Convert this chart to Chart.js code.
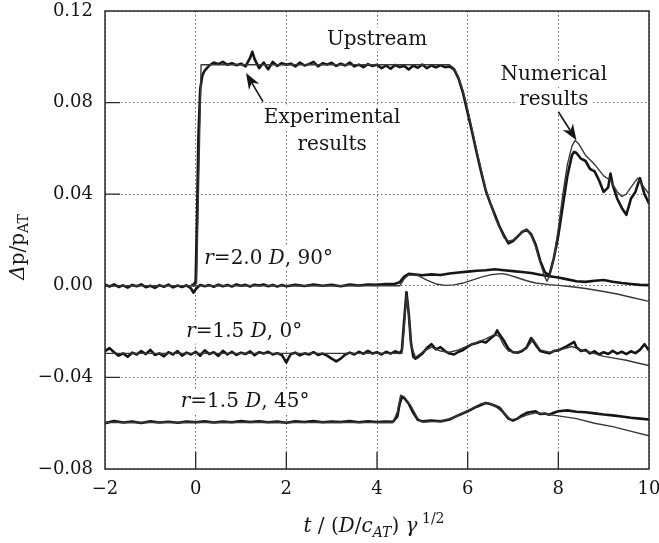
<!DOCTYPE html>
<html>
<head>
<meta charset="utf-8">
<script src="https://cdn.jsdelivr.net/npm/chart.js@4/dist/chart.umd.min.js"></script>
<style>
  body { margin: 0; background: #fff; }
  canvas { display: block; }
</style>
</head>
<body>
<canvas id="chart" width="659" height="543"></canvas>
<script>
// [t, Δp/pAT] pairs
const upstreamExp = [
  [-0.1, 0.0004], [-0.05, 0.0002], [0, 0.002], [0.03, 0.030], [0.06, 0.065], [0.1, 0.086], [0.15, 0.092], [0.2, 0.094],
  [0.3, 0.0962], [0.4, 0.0975], [0.5, 0.0968], [0.6, 0.0978], [0.7, 0.0965], [0.8, 0.0972], [0.9, 0.0963], [1.0, 0.0970],
  [1.1, 0.0958], [1.2, 0.0995], [1.25, 0.1022], [1.3, 0.0990], [1.4, 0.0950], [1.5, 0.0975], [1.6, 0.0945], [1.7, 0.0978],
  [1.8, 0.0960], [1.9, 0.0972], [2.0, 0.0965], [2.1, 0.0970], [2.2, 0.0958], [2.3, 0.0975], [2.4, 0.0962], [2.5, 0.0968],
  [2.6, 0.0978], [2.7, 0.0958], [2.8, 0.0972], [2.9, 0.0966], [3.0, 0.0974], [3.1, 0.0960], [3.2, 0.0970], [3.3, 0.0962],
  [3.4, 0.0975], [3.5, 0.0958], [3.6, 0.0966], [3.7, 0.0955], [3.8, 0.0968], [3.9, 0.0960], [4.0, 0.0965], [4.1, 0.0950],
  [4.2, 0.0962], [4.3, 0.0948], [4.4, 0.0964], [4.5, 0.0955], [4.6, 0.0960], [4.7, 0.0945], [4.8, 0.0962], [4.9, 0.0952],
  [5.0, 0.0966], [5.1, 0.0950], [5.2, 0.0962], [5.3, 0.0954], [5.4, 0.0963], [5.5, 0.0955], [5.6, 0.0958], [5.7, 0.0945],
  [5.8, 0.0905], [5.9, 0.0840], [6.0, 0.0755], [6.1, 0.0670], [6.2, 0.0580], [6.3, 0.0495], [6.4, 0.0415], [6.5, 0.0360],
  [6.6, 0.0310], [6.7, 0.0260], [6.8, 0.0220], [6.9, 0.0185], [7.0, 0.0195], [7.1, 0.0215], [7.2, 0.0235], [7.3, 0.0245],
  [7.4, 0.0225], [7.5, 0.0180], [7.6, 0.0110], [7.7, 0.0060], [7.8, 0.0045], [7.9, 0.0120], [8.0, 0.0220], [8.1, 0.0350],
  [8.2, 0.0480], [8.3, 0.0570], [8.35, 0.0585], [8.4, 0.0580], [8.5, 0.0555], [8.6, 0.0545], [8.7, 0.0510], [8.8, 0.0500],
  [8.9, 0.0460], [9.0, 0.0410], [9.1, 0.0430], [9.15, 0.0490], [9.2, 0.0440], [9.3, 0.0380], [9.4, 0.0340], [9.5, 0.0310],
  [9.6, 0.0380], [9.7, 0.0410], [9.8, 0.0470], [9.9, 0.0400], [10.0, 0.0360]
];
const upstreamNum = [
  [-0.05, 0], [0.02, 0.001], [0.12, 0.0965], [5.6, 0.0965], [5.7, 0.0950], [5.8, 0.0910], [5.9, 0.0850], [6.0, 0.0770],
  [6.2, 0.0590], [6.4, 0.0420], [6.6, 0.0300], [6.8, 0.0210], [6.9, 0.0195], [7.0, 0.0200], [7.2, 0.0235], [7.3, 0.0245],
  [7.4, 0.0220], [7.5, 0.0170], [7.6, 0.0100], [7.7, 0.0040], [7.75, 0.0020], [7.8, 0.0040], [7.9, 0.0120], [8.0, 0.0250],
  [8.1, 0.0400], [8.2, 0.0530], [8.3, 0.0610], [8.37, 0.0635], [8.45, 0.0620], [8.6, 0.0570], [8.8, 0.0530], [9.0, 0.0480],
  [9.15, 0.0460], [9.3, 0.0410], [9.4, 0.0390], [9.5, 0.0400], [9.6, 0.0430], [9.75, 0.0470], [9.85, 0.0440], [10.0, 0.0400]
];
const r20Exp = [
  [-2.0, 0.0005], [-1.9, -0.0003], [-1.8, 0.0006], [-1.7, -0.0005], [-1.6, 0.0002], [-1.5, -0.0008], [-1.4, 0.0004],
  [-1.3, -0.0002], [-1.2, 0.0006], [-1.1, -0.0006], [-1.0, 0.0000], [-0.9, -0.0009], [-0.8, 0.0003], [-0.7, -0.0004],
  [-0.6, 0.0005], [-0.5, -0.0007], [-0.4, 0.0001], [-0.3, -0.0005], [-0.2, 0.0002], [-0.1, -0.0012], [-0.05, -0.0030],
  [0.0, -0.0015], [0.1, 0.0004], [0.2, -0.0002], [0.3, 0.0003], [0.4, -0.0004], [0.5, 0.0005], [0.6, -0.0002],
  [0.7, 0.0004], [0.8, -0.0003], [0.9, 0.0006], [1.0, 0.0000], [1.1, 0.0004], [1.2, -0.0003], [1.3, 0.0005],
  [1.4, 0.0001], [1.5, 0.0006], [1.6, -0.0002], [1.7, 0.0004], [1.8, -0.0003], [1.9, 0.0003], [2.0, -0.0002],
  [2.2, 0.0004], [2.4, -0.0001], [2.6, 0.0005], [2.8, 0.0000], [3.0, 0.0004], [3.2, -0.0002], [3.4, 0.0005],
  [3.6, 0.0001], [3.8, 0.0006], [4.0, 0.0004], [4.2, 0.0008], [4.4, 0.0009], [4.5, 0.0015], [4.6, 0.0040],
  [4.7, 0.0052], [4.8, 0.0050], [5.0, 0.0046], [5.2, 0.0050], [5.4, 0.0047], [5.6, 0.0054], [5.8, 0.0058],
  [6.0, 0.0062], [6.2, 0.0066], [6.4, 0.0068], [6.6, 0.0072], [6.8, 0.0068], [7.0, 0.0064], [7.2, 0.0060],
  [7.4, 0.0056], [7.6, 0.0048], [7.8, 0.0042], [8.0, 0.0036], [8.2, 0.0028], [8.4, 0.0020], [8.6, 0.0017],
  [8.8, 0.0022], [9.0, 0.0025], [9.2, 0.0018], [9.4, 0.0012], [9.6, 0.0008], [9.8, 0.0004], [10.0, 0.0003]
];
const r20Num = [
  [-2.0, 0], [4.5, 0], [4.6, 0.0030], [4.7, 0.0048], [4.9, 0.0045], [5.1, 0.0025], [5.3, 0.0008], [5.5, 0.0002],
  [5.7, 0.0004], [5.9, 0.0012], [6.1, 0.0025], [6.3, 0.0038], [6.5, 0.0048], [6.75, 0.0053], [6.9, 0.0048],
  [7.1, 0.0035], [7.3, 0.0022], [7.5, 0.0012], [7.8, 0.0005], [8.0, 0.0002], [8.3, -0.0004], [8.6, -0.0012],
  [9.0, -0.0025], [9.3, -0.0036], [9.6, -0.0050], [10.0, -0.0068]
];
const r15aExp = [
  [-2.0, -0.0285], [-1.9, -0.0272], [-1.8, -0.0290], [-1.7, -0.0305], [-1.6, -0.0295], [-1.5, -0.0310], [-1.4, -0.0292],
  [-1.3, -0.0300], [-1.2, -0.0285], [-1.1, -0.0298], [-1.0, -0.0280], [-0.9, -0.0302], [-0.8, -0.0295], [-0.7, -0.0308],
  [-0.6, -0.0290], [-0.5, -0.0300], [-0.4, -0.0285], [-0.3, -0.0305], [-0.2, -0.0292], [-0.1, -0.0300], [0.0, -0.0288],
  [0.1, -0.0305], [0.2, -0.0282], [0.3, -0.0298], [0.4, -0.0290], [0.5, -0.0306], [0.6, -0.0284], [0.7, -0.0300],
  [0.8, -0.0288], [0.9, -0.0302], [1.0, -0.0292], [1.1, -0.0298], [1.2, -0.0286], [1.3, -0.0303], [1.4, -0.0290],
  [1.5, -0.0296], [1.6, -0.0288], [1.7, -0.0300], [1.8, -0.0294], [1.9, -0.0302], [1.95, -0.0318], [2.0, -0.0335],
  [2.05, -0.0315], [2.1, -0.0298], [2.2, -0.0292], [2.3, -0.0304], [2.4, -0.0295], [2.5, -0.0300], [2.6, -0.0290],
  [2.7, -0.0302], [2.8, -0.0296], [2.9, -0.0305], [3.0, -0.0318], [3.1, -0.0330], [3.2, -0.0318], [3.3, -0.0300],
  [3.4, -0.0292], [3.5, -0.0300], [3.6, -0.0288], [3.7, -0.0297], [3.8, -0.0284], [3.9, -0.0296], [4.0, -0.0290],
  [4.1, -0.0300], [4.2, -0.0288], [4.3, -0.0296], [4.4, -0.0286], [4.5, -0.0294], [4.55, -0.0280], [4.6, -0.0150],
  [4.65, -0.0028], [4.7, -0.0120], [4.75, -0.0250], [4.8, -0.0310], [4.85, -0.0318], [4.9, -0.0312], [5.0, -0.0296],
  [5.1, -0.0272], [5.2, -0.0255], [5.3, -0.0278], [5.4, -0.0268], [5.5, -0.0285], [5.6, -0.0296], [5.7, -0.0300],
  [5.8, -0.0288], [5.9, -0.0280], [6.0, -0.0266], [6.1, -0.0255], [6.2, -0.0250], [6.3, -0.0242], [6.4, -0.0248],
  [6.5, -0.0230], [6.6, -0.0215], [6.65, -0.0195], [6.7, -0.0212], [6.8, -0.0240], [6.9, -0.0275], [7.0, -0.0290],
  [7.1, -0.0292], [7.2, -0.0285], [7.3, -0.0270], [7.4, -0.0228], [7.5, -0.0258], [7.6, -0.0285], [7.7, -0.0290],
  [7.8, -0.0295], [7.9, -0.0285], [8.0, -0.0282], [8.1, -0.0272], [8.2, -0.0262], [8.35, -0.0245], [8.4, -0.0268],
  [8.5, -0.0285], [8.6, -0.0280], [8.7, -0.0295], [8.8, -0.0286], [8.9, -0.0300], [9.0, -0.0290], [9.1, -0.0298],
  [9.2, -0.0284], [9.3, -0.0296], [9.4, -0.0288], [9.5, -0.0298], [9.6, -0.0286], [9.7, -0.0294], [9.8, -0.0280],
  [9.9, -0.0255], [10.0, -0.0282]
];
const r15aNum = [
  [-2.0, -0.0295], [4.55, -0.0295], [4.6, -0.0180], [4.65, -0.0040], [4.7, -0.0130], [4.75, -0.0260], [4.85, -0.0312],
  [5.0, -0.0290], [5.2, -0.0268], [5.4, -0.0285], [5.6, -0.0290], [5.8, -0.0280], [6.0, -0.0262], [6.2, -0.0248],
  [6.4, -0.0232], [6.6, -0.0212], [6.7, -0.0222], [6.8, -0.0260], [6.9, -0.0285], [7.1, -0.0290], [7.3, -0.0272],
  [7.45, -0.0235], [7.6, -0.0280], [7.8, -0.0290], [8.0, -0.0282], [8.3, -0.0265], [8.5, -0.0280], [8.8, -0.0296],
  [9.0, -0.0308], [9.2, -0.0315], [9.5, -0.0325], [9.7, -0.0335], [10.0, -0.0348]
];
const r15bExp = [
  [-2.0, -0.0600], [-1.8, -0.0590], [-1.6, -0.0597], [-1.4, -0.0593], [-1.2, -0.0599], [-1.0, -0.0592], [-0.8, -0.0597],
  [-0.6, -0.0594], [-0.4, -0.0598], [-0.2, -0.0593], [0.0, -0.0596], [0.2, -0.0592], [0.4, -0.0597], [0.6, -0.0593],
  [0.8, -0.0596], [1.0, -0.0591], [1.2, -0.0595], [1.4, -0.0592], [1.6, -0.0596], [1.8, -0.0593], [2.0, -0.0598],
  [2.2, -0.0592], [2.4, -0.0595], [2.6, -0.0591], [2.8, -0.0596], [3.0, -0.0593], [3.2, -0.0595], [3.4, -0.0591],
  [3.6, -0.0596], [3.8, -0.0592], [4.0, -0.0595], [4.2, -0.0593], [4.35, -0.0594], [4.45, -0.0570], [4.5, -0.0515],
  [4.55, -0.0486], [4.6, -0.0490], [4.7, -0.0515], [4.8, -0.0555], [4.9, -0.0585], [5.0, -0.0592], [5.2, -0.0588],
  [5.4, -0.0592], [5.6, -0.0584], [5.8, -0.0565], [6.0, -0.0548], [6.2, -0.0528], [6.4, -0.0512], [6.5, -0.0516],
  [6.6, -0.0524], [6.7, -0.0532], [6.8, -0.0556], [6.9, -0.0580], [7.0, -0.0589], [7.1, -0.0580], [7.2, -0.0566],
  [7.3, -0.0555], [7.4, -0.0551], [7.5, -0.0548], [7.6, -0.0560], [7.7, -0.0558], [7.8, -0.0563], [7.9, -0.0554],
  [8.0, -0.0548], [8.2, -0.0544], [8.4, -0.0550], [8.6, -0.0552], [8.8, -0.0557], [9.0, -0.0562], [9.2, -0.0566],
  [9.4, -0.0571], [9.6, -0.0576], [9.8, -0.0580], [10.0, -0.0584]
];
const r15bNum = [
  [-2.0, -0.0597], [4.35, -0.0597], [4.45, -0.0550], [4.52, -0.0478], [4.6, -0.0485], [4.75, -0.0525], [4.9, -0.0580],
  [5.0, -0.0595], [5.4, -0.0592], [5.7, -0.0575], [6.0, -0.0545], [6.3, -0.0515], [6.45, -0.0510], [6.6, -0.0525],
  [6.8, -0.0555], [6.95, -0.0585], [7.1, -0.0580], [7.3, -0.0565], [7.5, -0.0555], [7.7, -0.0560], [8.0, -0.0568],
  [8.4, -0.0580], [8.8, -0.0600], [9.2, -0.0615], [9.5, -0.0630], [10.0, -0.0655]
];

const xTicks = [-2, 0, 2, 4, 6, 8, 10];
const yTicks = [-0.08, -0.04, 0.00, 0.04, 0.08, 0.12];

const FONT = '"DejaVu Serif", serif';
const INK = '#151515';

function toPoints(pairs) {
    return pairs.map(p => ({ x: p[0], y: p[1] }));
}

function expSet(pairs) {
    return { data: toPoints(pairs), borderColor: '#161616', borderWidth: 2.6, order: 2 };
}
function numSet(pairs) {
    return { data: toPoints(pairs), borderColor: '#383838', borderWidth: 1.4, order: 1 };
}

// text runs: {t, i (italic), s (size), dy}
function runFont(r) {
    return (r.i ? 'italic ' : '') + (r.s || 20) + 'px ' + FONT;
}
function runsWidth(ctx, runs) {
    let w = 0;
    runs.forEach(r => { ctx.font = runFont(r); r.w = ctx.measureText(r.t).width; w += r.w; });
    return w;
}
function drawRuns(ctx, runs, x, y) {
    const total = runsWidth(ctx, runs);
    let cx = x - total / 2;
    runs.forEach(r => {
        ctx.font = runFont(r);
        ctx.fillText(r.t, cx, y + (r.dy || 0));
        cx += r.w;
    });
}

// annotations, placed in data coordinates
const notes = [
    { x: 4.0, y: 0.1076, runs: [{ t: 'Upstream' }] },
    { x: 3.01, y: 0.0733, runs: [{ t: 'Experimental' }] },
    { x: 3.01, y: 0.0615, runs: [{ t: 'results' }] },
    { x: 7.9, y: 0.0920, runs: [{ t: 'Numerical' }] },
    { x: 7.9, y: 0.0811, runs: [{ t: 'results' }] },
    { x: 1.61, y: 0.0117, runs: [{ t: 'r', i: 1 }, { t: '=2.0 ' }, { t: 'D', i: 1 }, { t: ', 90°' }] },
    { x: 1.07, y: -0.0200, runs: [{ t: 'r', i: 1 }, { t: '=1.5 ' }, { t: 'D', i: 1 }, { t: ', 0°' }] },
    { x: 1.09, y: -0.0506, runs: [{ t: 'r', i: 1 }, { t: '=1.5 ' }, { t: 'D', i: 1 }, { t: ', 45°' }] }
];
const arrows = [
    { from: [1.485, 0.0804], to: [1.11, 0.0929] },
    { from: [8.0, 0.0760], to: [8.40, 0.0636] }
];

function drawArrow(ctx, x1, y1, x2, y2) {
    const ang = Math.atan2(y2 - y1, x2 - x1);
    const len = 16, half = 6;
    ctx.strokeStyle = INK;
    ctx.fillStyle = INK;
    ctx.lineWidth = 1.6;
    ctx.beginPath();
    ctx.moveTo(x1, y1);
    ctx.lineTo(x2 - Math.cos(ang) * len * 0.7, y2 - Math.sin(ang) * len * 0.7);
    ctx.stroke();
    ctx.beginPath();
    ctx.moveTo(x2, y2);
    ctx.lineTo(x2 - Math.cos(ang) * len + Math.sin(ang) * half, y2 - Math.sin(ang) * len - Math.cos(ang) * half);
    ctx.lineTo(x2 - Math.cos(ang) * len * 0.7, y2 - Math.sin(ang) * len * 0.7);
    ctx.lineTo(x2 - Math.cos(ang) * len - Math.sin(ang) * half, y2 - Math.sin(ang) * len + Math.cos(ang) * half);
    ctx.closePath();
    ctx.fill();
}

const decorations = {
    id: 'decorations',
    beforeDatasetsDraw(chart) {
        // white patches behind the labels, which break the dotted grid like in the figure
        const { ctx, scales: { x, y } } = chart;
        ctx.save();
        ctx.fillStyle = '#fff';
        notes.forEach(n => {
            const w = runsWidth(ctx, n.runs);
            ctx.fillRect(x.getPixelForValue(n.x) - w / 2 - 4, y.getPixelForValue(n.y) - 12, w + 8, 24);
        });
        ctx.restore();
    },
    afterDraw(chart) {
        const { ctx, chartArea: a, scales: { x, y } } = chart;
        ctx.save();
        // frame
        ctx.strokeStyle = '#2a2a2a';
        ctx.lineWidth = 1.5;
        ctx.strokeRect(a.left, a.top, a.right - a.left, a.bottom - a.top);
        // inner tick marks
        ctx.lineWidth = 1.3;
        ctx.beginPath();
        xTicks.slice(1, -1).forEach(v => {
            const px = x.getPixelForValue(v);
            ctx.moveTo(px, a.bottom);
            ctx.lineTo(px, a.bottom - 17);
        });
        yTicks.slice(1, -1).forEach(v => {
            const py = y.getPixelForValue(v);
            ctx.moveTo(a.left, py);
            ctx.lineTo(a.left + 15, py);
        });
        ctx.stroke();

        // labels
        ctx.fillStyle = INK;
        ctx.textBaseline = 'middle';
        ctx.textAlign = 'left';
        notes.forEach(n => drawRuns(ctx, n.runs, x.getPixelForValue(n.x), y.getPixelForValue(n.y)));
        arrows.forEach(ar => drawArrow(ctx,
            x.getPixelForValue(ar.from[0]), y.getPixelForValue(ar.from[1]),
            x.getPixelForValue(ar.to[0]), y.getPixelForValue(ar.to[1])));

        // x axis title
        ctx.textBaseline = 'alphabetic';
        drawRuns(ctx, [
            { t: 't', i: 1 }, { t: ' / (' }, { t: 'D', i: 1 }, { t: '/' }, { t: 'c', i: 1 },
            { t: 'AT', i: 1, s: 14, dy: 5 }, { t: ') ' }, { t: 'γ', i: 1 }, { t: ' 1/2', s: 14, dy: -9 }
        ], 374, 532);

        // y axis title
        ctx.translate(19, 247);
        ctx.rotate(-Math.PI / 2);
        ctx.textBaseline = 'middle';
        drawRuns(ctx, [{ t: 'Δ', i: 1 }, { t: 'p/p' }, { t: 'AT', s: 14, dy: 5 }], 0, 0);
        ctx.restore();
    }
};

const ctx = document.getElementById('chart').getContext('2d');
new Chart(ctx, {
    type: 'line',
    data: {
        datasets: [
            expSet(upstreamExp), numSet(upstreamNum),
            expSet(r20Exp), numSet(r20Num),
            expSet(r15aExp), numSet(r15aNum),
            expSet(r15bExp), numSet(r15bNum)
        ]
    },
    options: {
        responsive: false,
        animation: false,
        layout: { padding: { left: 0, right: 10, top: 11, bottom: 0 } },
        elements: { point: { radius: 0 }, line: { tension: 0, borderJoinStyle: 'round' } },
        plugins: { legend: { display: false }, tooltip: { enabled: false } },
        scales: {
            x: {
                type: 'linear',
                min: -2,
                max: 10,
                afterBuildTicks: s => { s.ticks = xTicks.map(v => ({ value: v })); },
                afterFit: s => { s.height = 74; s.paddingLeft = 0; s.paddingRight = 0; },
                ticks: {
                    color: INK,
                    padding: 10,
                    font: { family: FONT, size: 18 },
                    callback: v => v < 0 ? '−' + Math.abs(v) : String(v)
                },
                grid: { color: '#666', lineWidth: 1, drawTicks: false },
                border: { display: false, dash: [1.5, 2.5] }
            },
            y: {
                min: -0.08,
                max: 0.12,
                afterBuildTicks: s => { s.ticks = yTicks.map(v => ({ value: v })); },
                afterFit: s => { s.width = 105; s.paddingTop = 0; s.paddingBottom = 0; },
                ticks: {
                    color: INK,
                    padding: 12,
                    font: { family: FONT, size: 18 },
                    callback: v => (v < -1e-9 ? '−' : '') + Math.abs(v).toFixed(2)
                },
                grid: { color: '#666', lineWidth: 1, drawTicks: false },
                border: { display: false, dash: [1.5, 2.5] }
            }
        }
    },
    plugins: [decorations]
});
</script>
</body>
</html>
